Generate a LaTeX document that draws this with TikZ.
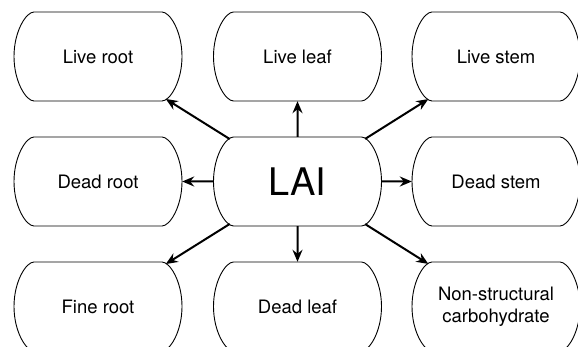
\documentclass[tikz,border=0pt]{standalone}
\usepackage{fontspec}
\setmainfont{TeX Gyre Heros}
\usetikzlibrary{shapes.misc, arrows.meta}

\begin{document}
\begin{tikzpicture}[x=1pt, y=-1pt,
    pool/.style={rounded rectangle, rounded rectangle arc length=90,
      minimum width=168pt, minimum height=89pt, inner sep=0pt, align=center,
      font=\fontsize{18.5}{22}\selectfont},
    rim/.style={draw, line width=0.9pt},
    flow/.style={-{Stealth[length=12pt, width=10pt, inset=4pt]}, line width=2pt}]
\useasboundingbox (0,0) rectangle (578,347);

% Pools
\node[pool] (lroot) at (98,56.5) {Live root};
\node[pool] (lleaf) at (297.5,56.5) {Live leaf};
\node[pool] (lstem) at (496,56.5) {Live stem};
\node[pool] (droot) at (98,181.5) {Dead root};
\node[pool, font=\fontsize{38}{40}\selectfont] (lai) at (297.5,181.5) {LAI};
\node[pool] (dstem) at (496,181.5) {Dead stem};
\node[pool] (froot) at (98,306.5) {Fine root};
\node[pool] (dleaf) at (297.5,306.5) {Dead leaf};
\node[pool] (nsc) at (496,306.5) {Non-structural\\carbohydrate};

% Outlines with bulged ends
\foreach \n in {lroot, lleaf, lstem, droot, lai, dstem, froot, dleaf, nsc}
  \draw[rim, shift={(\n.center)}] (-64,-44.5) -- (64,-44.5)
    .. controls (72,-44.5) and (84,-25) .. (84,0)
    .. controls (84,25) and (72,44.5) .. (64,44.5) -- (-64,44.5)
    .. controls (-72,44.5) and (-84,25) .. (-84,0)
    .. controls (-84,-25) and (-72,-44.5) .. (-64,-44.5) -- cycle;

% Arrows out of LAI
\foreach \t in {lroot, lleaf, lstem, droot, dstem, froot, dleaf, nsc}
  \draw[flow] (lai) -- (\t);
\end{tikzpicture}
\end{document}
